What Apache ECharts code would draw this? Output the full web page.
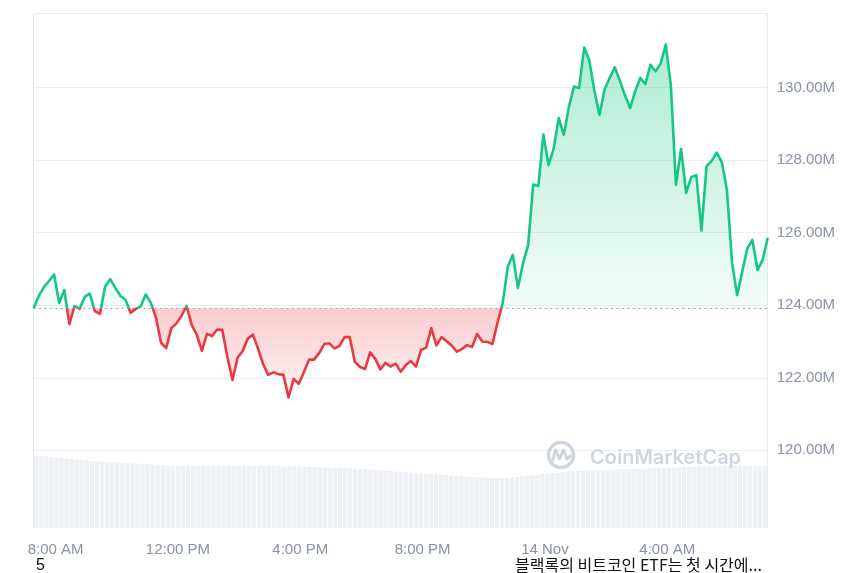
<!DOCTYPE html>
<html><head><meta charset="utf-8">
<script src="https://cdn.jsdelivr.net/npm/echarts@6/dist/echarts.min.js"></script>
<style>html,body{margin:0;padding:0;background:#fff}#c{width:860px;height:573px}</style>
</head><body><div id="c"></div>
<script>
// 13 Nov 7:17 AM start, 10-minute steps
const startMinute = 437;
const stepMinutes = 10;
const baseline = 123.92;
const prices = [
123.92,124.26,124.50,124.67,124.85,124.06,124.42,123.48,123.98,123.90,
124.23,124.32,123.84,123.76,124.51,124.72,124.48,124.26,124.16,123.79,
123.90,123.97,124.30,124.06,123.65,122.96,122.82,123.37,123.50,123.71,
123.98,123.46,123.18,122.74,123.21,123.15,123.33,123.32,122.57,121.94,
122.55,122.74,123.08,123.19,122.81,122.38,122.08,122.15,122.10,122.08,
121.46,121.97,121.83,122.15,122.50,122.50,122.68,122.93,122.95,122.81,
122.88,123.12,123.12,122.44,122.30,122.24,122.70,122.52,122.23,122.41,
122.31,122.39,122.17,122.35,122.46,122.31,122.77,122.83,123.37,122.89,
123.12,123.01,122.89,122.72,122.79,122.90,122.85,123.21,123.00,122.99,
122.93,123.52,124.05,125.06,125.39,124.48,125.16,125.66,127.33,127.29,
128.71,127.87,128.31,129.16,128.70,129.47,130.03,129.99,131.11,130.76,
129.91,129.25,129.95,130.27,130.56,130.19,129.79,129.44,129.90,130.27,
130.10,130.63,130.45,130.67,131.19,130.07,127.32,128.31,127.10,127.53,
127.59,126.06,127.83,127.98,128.21,127.95,127.18,125.18,124.28,124.92,
125.57,125.80,124.97,125.25,125.86
];
const volumes = [
72,72,71.5,71,70.5, 70,69.5,69,68.5,68,
67.5,67,66.5,66.5,66, 65.5,65.5,65,65,64.5,
64.5,64,64,63.5,63.5, 63,62.5,62.5,62,62,
62,62,62,62,62,62,62,62,62,62,
62,62,62,62,62,62,62,62,61.5,61.5,
61.5,61.5,61.5,61,61,61,60.5,60.5,60.5,60,
60,60,59.5,59.5,59,59,58.5,58.5,58,57.5,
57,56.5,56,56,55.5,55,54.5,54,54,53.5,
53,53,52.5,52,52,51.5,51,51,50.5,50.5,
50,50,50,50,50.5,51,51.5,52,52.5,53,
54,54.5,55,55.5,56,56.5,57,57,57.5,57.5,
58,58,58,58.5,58.5,58.5,59,59,59,59.5,
59.5,59.5,60,60,60,60.5,60.5,60.5,61,61,
61,61.5,61.5,61.5,62,62,62,62,62.5,62.5,
62.5,62.5,62.5,62.5,62.5
];
const xTickMinutes = [480, 720, 960, 1200, 1440, 1680];
const xTickLabels = ['8:00 AM', '12:00 PM', '4:00 PM', '8:00 PM', '14 Nov', '4:00 AM'];
const yTickValues = [120, 122, 124, 126, 128, 130];

const times = prices.map((v, i) => startMinute + i * stepMinutes);
const priceData = prices.map((v, i) => [times[i], v]);
const xMin = times[0], xMax = times[times.length - 1];
const labelColor = '#8a92a6';
const gridLine = '#eceff2';
const fontFamily = "'Liberation Sans', Arial, sans-serif";
const wm = '#cfd5e1';

const chart = echarts.init(document.getElementById('c'));
chart.setOption({
  animation: false,
  grid: [
    {left: 33.7, right: 92.3, top: 15.18, bottom: 50.2},
    {left: 33.7, right: 92.3, top: 400, bottom: 45}
  ],
  xAxis: [
    {type: 'value', gridIndex: 0, min: xMin, max: xMax,
     axisLine: {show: false}, axisTick: {show: false}, splitLine: {show: false},
     axisLabel: {customValues: xTickMinutes, formatter: v => { const k = xTickMinutes.indexOf(v); return k >= 0 ? xTickLabels[k] : ''; },
       color: labelColor, fontSize: 15, fontFamily: fontFamily, margin: 20}},
    {type: 'category', gridIndex: 1, data: times, boundaryGap: true, show: false}
  ],
  yAxis: [
    {type: 'value', gridIndex: 0, position: 'right', min: 118, max: 132, interval: 2,
     axisLine: {show: false}, axisTick: {show: false},
     axisLabel: {formatter: v => yTickValues.includes(v) ? v.toFixed(2) + 'M' : '', color: labelColor, fontSize: 15, fontFamily: fontFamily, margin: 9},
     splitLine: {lineStyle: {width: 1, color: ['transparent', gridLine, gridLine, gridLine, gridLine, gridLine, gridLine, 'transparent']}}},
    {type: 'value', gridIndex: 1, min: 0, max: 128, show: false}
  ],
  visualMap: {show: false, type: 'piecewise', seriesIndex: 1, dimension: 1,
    pieces: [{gt: baseline, lte: 200, color: '#16c784'}, {gte: 0, lte: baseline, color: '#ea3943'}]},
  series: [
    {type: 'bar', xAxisIndex: 1, yAxisIndex: 1, data: volumes, barCategoryGap: '14%', silent: true,
     itemStyle: {color: '#edf0f4'}},
    {type: 'line', xAxisIndex: 0, yAxisIndex: 0, data: priceData, symbol: 'none', silent: true,
     lineStyle: {width: 2.6, join: 'round'},
     areaStyle: {origin: baseline, opacity: 1, color: {type: 'linear', x: 0, y: 14, x2: 0, y2: 528, global: true,
       colorStops: [
         {offset: 0, color: 'rgba(22,199,132,0.38)'},
         {offset: 0.572, color: 'rgba(22,199,132,0.05)'},
         {offset: 0.573, color: 'rgba(234,57,67,0.26)'},
         {offset: 0.76, color: 'rgba(234,57,67,0.04)'},
         {offset: 1, color: 'rgba(234,57,67,0.0)'}
       ]}},
     markLine: {symbol: 'none', silent: true, label: {show: false}, animation: false,
       lineStyle: {type: [1.5, 4], color: '#8f96a3', width: 1}, data: [{yAxis: baseline}]}}
  ],
  graphic: [
    {type: 'polyline', z: 0, shape: {points: [[33.5, 528], [33.5, 13.5], [767.5, 13.5], [767.5, 528]]},
     style: {fill: 'none', stroke: '#e8eaed', lineWidth: 1}},
    {type: 'circle', z: 10, shape: {cx: 561, cy: 455, r: 12.5}, style: {fill: 'none', stroke: wm, lineWidth: 3.5}},
    {type: 'polyline', z: 10, shape: {points: [[552, 462], [555.5, 450], [559.5, 459], [563.5, 450], [567, 459], [570.5, 456]]},
     style: {fill: 'none', stroke: wm, lineWidth: 3, lineJoin: 'round', lineCap: 'round'}},
    {type: 'text', z: 10, x: 590, y: 458, style: {text: 'CoinMarketCap', fill: wm, font: "600 20px Inter, 'Noto Sans', sans-serif", verticalAlign: 'middle'}},
    {type: 'text', z: 10, x: 36, y: 566, style: {text: '5', fill: '#111', font: "16px 'Liberation Sans', Arial, sans-serif", verticalAlign: 'middle'}},
    {type: 'text', z: 10, x: 515, y: 565, style: {text: '블랙록의 비트코인 ETF는 첫 시간에...', fill: '#111', font: "16px 'Noto Sans CJK KR', sans-serif", verticalAlign: 'middle'}}
  ]
});
</script>
</body></html>
